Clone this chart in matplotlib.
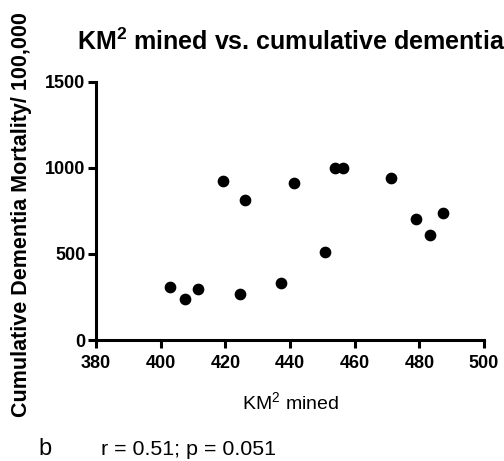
import matplotlib
matplotlib.use("Agg")
import matplotlib.pyplot as plt

km2_mined = [402.8, 407.6, 411.6, 419.2, 424.4, 426.2, 437.3, 441.3, 450.9, 453.8, 456.4, 471.2, 479.0, 483.2, 487.3]
dementia = [310, 237, 295, 924, 267, 814, 333, 915, 510, 1000, 1000, 942, 705, 610, 740]
x_ticks = [380, 400, 420, 440, 460, 480, 500]
y_ticks = [0, 500, 1000, 1500]

plt.rcParams['font.family'] = ['Liberation Sans', 'DejaVu Sans']
plt.rcParams['mathtext.fontset'] = 'custom'
plt.rcParams['mathtext.rm'] = 'Liberation Sans'
plt.rcParams['mathtext.bf'] = 'Liberation Sans:bold'

fig = plt.figure(figsize=(5.04, 4.61), dpi=100)
ax = fig.add_axes([96/504, 1-340/461, (484-96)/504, (340-82)/461])
ax.scatter(km2_mined, dementia, s=55, color='black', zorder=3, clip_on=False)
ax.set_xlim(380, 500)
ax.set_ylim(0, 1500)
ax.set_xticks(x_ticks)
ax.set_yticks(y_ticks)
for s in ['top', 'right']:
    ax.spines[s].set_visible(False)
for s in ['left', 'bottom']:
    ax.spines[s].set_linewidth(2.2)
ax.tick_params(width=2.2, length=6, labelsize=13)
ax.tick_params(axis='x', pad=5)
ax.tick_params(axis='y', pad=1.5)
for lab in ax.get_xticklabels() + ax.get_yticklabels():
    lab.set_fontweight('bold')

fig.text(291/504, 1-50/461, r'KM$^\mathbf{2}$ mined vs. cumulative dementia', ha='center', va='baseline',
         fontsize=18, fontweight='bold')
fig.text(22/504, 1-215/461, 'Cumulative Dementia Mortality/ 100,000', rotation=90, ha='center', va='center',
         fontsize=15.5, fontweight='bold')
fig.text(290/504, 1-410/461, r'KM$^\mathrm{2}$ mined', ha='center', va='baseline', fontsize=14)
fig.text(38/504, 1-455/461, 'b', ha='left', va='baseline', fontsize=17)
fig.text(101/504, 1-455/461, 'r = 0.51; p = 0.051', ha='left', va='baseline', fontsize=15.4)

fig.savefig('out.png', dpi=100)
